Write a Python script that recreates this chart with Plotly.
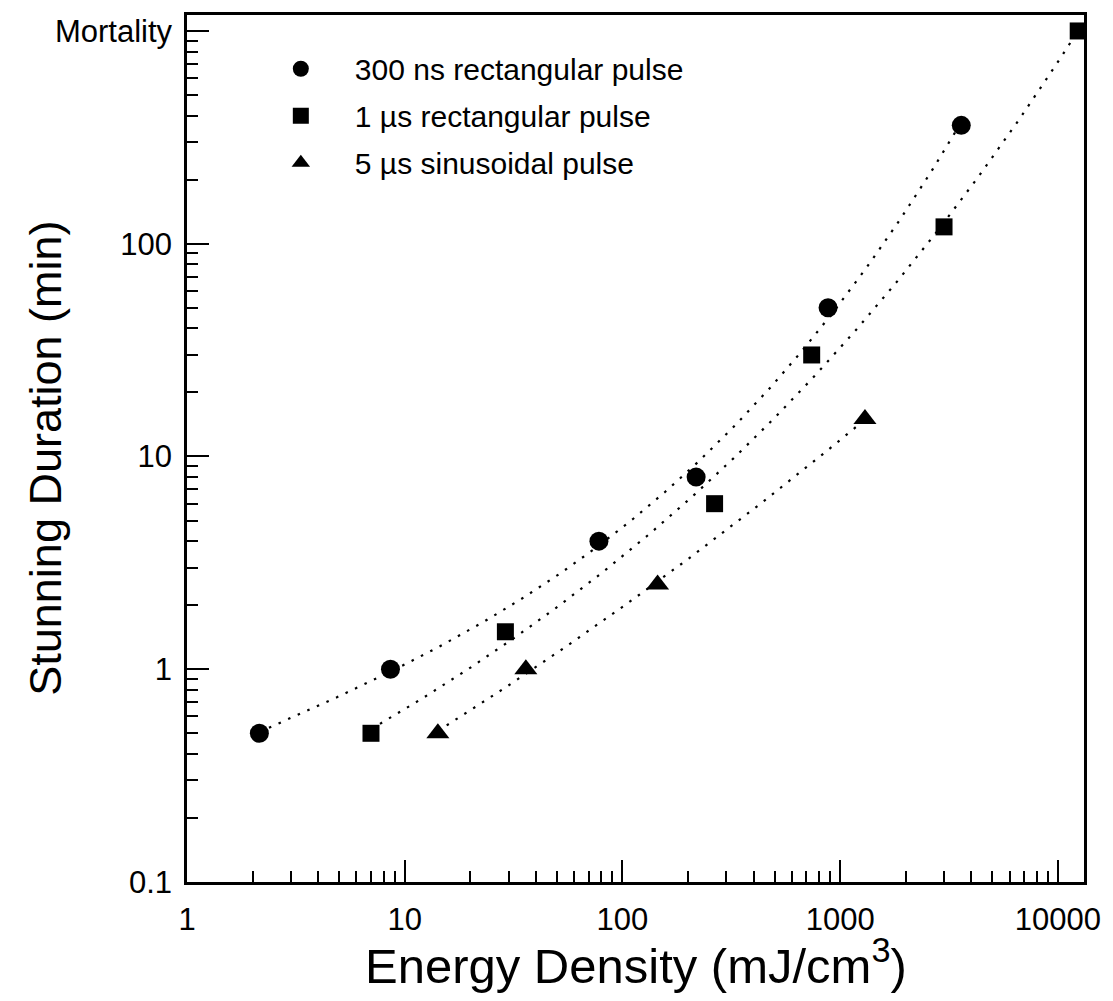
import numpy as np
import plotly.graph_objects as go

# Energy density (mJ/cm^3) and stunning duration (min) per pulse type
energy_300ns = [2.15, 8.6, 78, 218, 880, 3600]
stun_300ns = [0.5, 1, 4, 8, 50, 360]

energy_1us = [7.0, 29, 265, 740, 3000, 12400]
stun_1us = [0.5, 1.5, 6, 30, 120, 1000]

energy_5us = [14.2, 36, 145, 1300]
stun_5us = [0.5, 1, 2.5, 15]

series_names = ["300 ns rectangular pulse", "1 \u00b5s rectangular pulse", "5 \u00b5s sinusoidal pulse"]
series_symbols = ["circle", "square", "triangle-up"]
series_sizes = [19, 17, 20]
fit_degrees = [3, 3, 2]

y_tick_vals = [0.1, 1, 10, 100, 1000]
y_tick_text = ["0.1", "1", "10", "100", "Mortality"]
x_tick_vals = [1, 10, 100, 1000, 10000]
x_tick_text = ["1", "10", "100", "1000", "10000"]

FONT = "Liberation Sans, Arial, Helvetica, sans-serif"

fig = go.Figure()

datasets = [(energy_300ns, stun_300ns), (energy_1us, stun_1us), (energy_5us, stun_5us)]

# Dotted regression curves (polynomial in log-log space) fitted to each series
for (xs, ys), deg in zip(datasets, fit_degrees):
    lx = np.log10(xs)
    ly = np.log10(ys)
    coef = np.polyfit(lx, ly, deg)
    gx = np.linspace(lx.min(), lx.max(), 200)
    gy = np.polyval(coef, gx)
    fig.add_trace(go.Scatter(
        x=10 ** gx, y=10 ** gy, mode="lines",
        line=dict(color="black", width=2.2, dash="2.5px,8px"),
        showlegend=False, hoverinfo="skip",
    ))

# Measured points
for (xs, ys), name, sym, sz in zip(datasets, series_names, series_symbols, series_sizes):
    fig.add_trace(go.Scatter(
        x=xs, y=ys, mode="markers", name=name,
        marker=dict(symbol=sym, size=sz, color="black", line=dict(width=0)),
        legendgroup=name,
    ))

axis_common = dict(
    type="log",
    showline=True, linecolor="black", linewidth=2.5, mirror=True,
    ticks="inside", ticklen=22, tickwidth=2, tickcolor="black",
    minor=dict(ticks="inside", ticklen=11, tickwidth=2, tickcolor="black", dtick="D1", showgrid=False),
    showgrid=False, zeroline=False,
    tickfont=dict(family=FONT, size=31, color="black"),
)

fig.update_xaxes(
    **axis_common,
    range=[0, 4.12],
    tickvals=x_tick_vals, ticktext=x_tick_text,
    ticklabelstandoff=8,
)
fig.update_yaxes(
    **axis_common,
    range=[-1, 3.075],
    tickvals=y_tick_vals, ticktext=y_tick_text,
    ticklabelstandoff=6,
)

fig.update_layout(
    width=1113, height=1001,
    margin=dict(l=187, r=27, t=12, b=119),
    paper_bgcolor="white", plot_bgcolor="white",
    showlegend=True,
    legend=dict(
        x=0.0667, y=0.968, xanchor="left", yanchor="top",
        bgcolor="rgba(0,0,0,0)", borderwidth=0,
        font=dict(family=FONT, size=30, color="black"),
        itemwidth=98, tracegroupgap=5,
    ),
    annotations=[
        dict(
            text="Stunning Duration (min)", textangle=-90,
            xref="paper", yref="paper", x=-0.158, y=0.4885,
            xanchor="center", yanchor="middle", showarrow=False,
            font=dict(family=FONT, size=45, color="black"),
        ),
        dict(
            text="Energy Density (mJ/cm<sup>3</sup>)",
            xref="paper", yref="paper", x=0.5, y=-0.092,
            xanchor="center", yanchor="middle", showarrow=False,
            font=dict(family=FONT, size=49, color="black"),
        ),
    ],
)

fig.write_html("out.html")
